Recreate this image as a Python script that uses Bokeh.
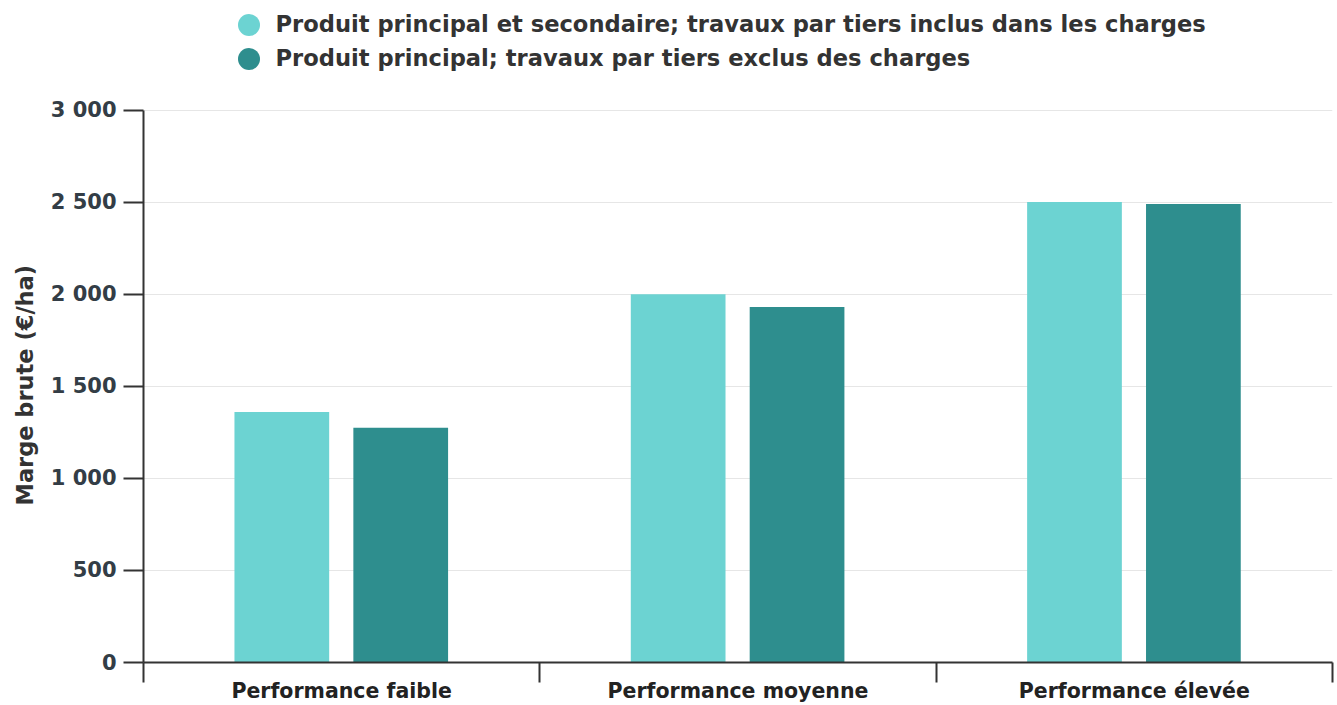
from bokeh.plotting import figure
from bokeh.models import (ColumnDataSource, Range1d, FixedTicker, Legend, LegendItem, Title)
from bokeh.transform import dodge
from bokeh.embed import file_html
from bokeh.resources import INLINE

categories = ["Performance faible", "Performance moyenne", "Performance élevée"]
series_names = [
    "Produit principal et secondaire; travaux par tiers inclus dans les charges",
    "Produit principal; travaux par tiers exclus des charges",
]
series_inclus = [1360, 2000, 2500]
series_exclus = [1275, 1930, 2490]
y_ticks = [0, 500, 1000, 1500, 2000, 2500, 3000]
y_title = "Marge brute (€/ha)"
colors = ["#6cd3d2", "#2e8e8e"]

FONT = "DejaVu Sans"
TEXT = "#333333"
TICK_TEXT = "#333d46"

W, H = 1337, 705
TOP_SPACE = 110          # legend area above the value axis
BOTTOM = 40
y_max = y_ticks[-1]
plot_h = H - BOTTOM       # frame height (frame reaches top of canvas)
axis_h = plot_h - TOP_SPACE
y_end = y_max * plot_h / axis_h

xpos = [i + 0.5 for i in range(len(categories))]
src = ColumnDataSource(dict(x=xpos, cat=categories, a=series_inclus, b=series_exclus))

p = figure(width=W, height=H, output_backend="svg", toolbar_location=None,
           x_range=Range1d(0, len(categories)), y_range=Range1d(0, y_end),
           min_border_left=142, min_border_top=0, min_border_bottom=BOTTOM,
           min_border_right=5)
p.outline_line_color = None
p.background_fill_color = "white"

bw = 0.239
r1 = p.vbar(x=dodge("x", -0.151, range=p.x_range), top="a", width=bw, source=src,
            fill_color=colors[0], line_color=None)
r2 = p.vbar(x=dodge("x", 0.149, range=p.x_range), top="b", width=bw, source=src,
            fill_color=colors[1], line_color=None)

# legend glyph carriers (circles, zero size in plot; legend draws its own size)
l1 = p.scatter(x=dodge("x", -0.151, range=p.x_range), y="a", source=src, size=0,
               marker="circle", fill_color=colors[0], line_color=None)
l2 = p.scatter(x=dodge("x", 0.149, range=p.x_range), y="b", source=src, size=0,
               marker="circle", fill_color=colors[1], line_color=None)

# x axis: labels at category centres, separator ticks at boundaries
xa = p.xaxis[0]
xa.ticker = FixedTicker(ticks=xpos, minor_ticks=list(range(len(categories) + 1)))
xa.major_label_overrides = {x: c for x, c in zip(xpos, categories)}
xa.major_tick_out = 0
xa.major_tick_in = 0
xa.minor_tick_out = 20
xa.minor_tick_in = 0
xa.minor_tick_line_color = "#333333"
xa.minor_tick_line_width = 2
xa.axis_line_color = "#333333"
xa.axis_line_width = 2
xa.major_label_text_font = FONT
xa.major_label_text_font_style = "bold"
xa.major_label_text_font_size = "20.5px"
xa.major_label_text_color = "#222222"
xa.major_label_standoff = -4

ya = p.yaxis[0]
ya.ticker = FixedTicker(ticks=y_ticks)
ya.bounds = (y_ticks[0], y_max)
ya.major_label_overrides = {v: f"{v:,}".replace(",", " ") for v in y_ticks}
ya.major_tick_out = 20
ya.major_tick_in = 0
ya.major_tick_line_color = "#333333"
ya.major_tick_line_width = 2
ya.minor_tick_line_color = None
ya.axis_line_color = "#333333"
ya.axis_line_width = 2
ya.major_label_text_font = FONT
ya.major_label_text_font_style = "bold"
ya.major_label_text_font_size = "21px"
ya.major_label_text_color = TICK_TEXT
ya.major_label_standoff = 7

# value-axis title, centred on the value axis (not on the full frame)
yt = Title(text=y_title, align="left", offset=157, standoff=19,
           text_font=FONT, text_font_style="bold", text_font_size="22.5px",
           text_color=TEXT)
p.add_layout(yt, "left")

p.xgrid.grid_line_color = None
p.ygrid.grid_line_color = "#e6e6e6"
p.ygrid.grid_line_width = 1

def make_legend(renderer, label, loc):
    lg = Legend(items=[LegendItem(label=label, renderers=[renderer])], location=loc,
                glyph_width=55, glyph_height=55, padding=0, margin=0, spacing=0,
                label_standoff=0, border_line_color=None, background_fill_alpha=0,
                label_text_font=FONT, label_text_font_style="bold",
                label_text_font_size="22.6px", label_text_color=TEXT)
    p.add_layout(lg, "center")

make_legend(l1, series_names[0], (77.5, 610.5))
make_legend(l2, series_names[1], (77.5, 576.5))

open("out.html", "w").write(file_html(p, INLINE))
